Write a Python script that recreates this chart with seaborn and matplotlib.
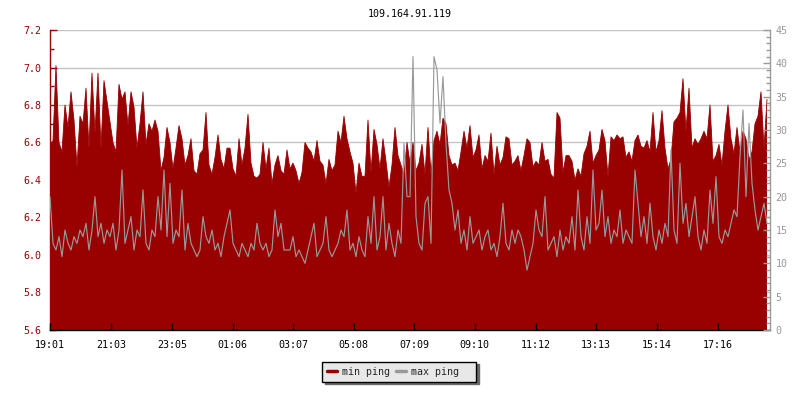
import numpy as np
import pandas as pd
import matplotlib
matplotlib.use("Agg")
import matplotlib.pyplot as plt
from matplotlib.lines import Line2D
from matplotlib.ticker import MultipleLocator, FormatStrFormatter
import seaborn as sns

# ---------------- data ----------------
title = "109.164.91.119"
start_time = "19:01"
step_minutes = 6
span_minutes = 1440
tick_labels = ["19:01", "21:03", "23:05", "01:06", "03:07", "05:08",
               "07:09", "09:10", "11:12", "13:13", "15:14", "17:16"]
series_names = ["min ping", "max ping"]

min_ping = [
    6.58, 6.61, 7.01, 6.60, 6.55, 6.80, 6.68, 6.87, 6.72, 6.47, 6.74, 6.70, 6.89, 6.57, 6.97, 6.65, 6.97, 6.57, 6.93, 6.82,
    6.71, 6.60, 6.55, 6.91, 6.83, 6.87, 6.69, 6.87, 6.79, 6.57, 6.70, 6.87, 6.59, 6.70, 6.66, 6.72, 6.66, 6.45, 6.52, 6.68,
    6.60, 6.46, 6.57, 6.69, 6.62, 6.48, 6.53, 6.62, 6.45, 6.43, 6.54, 6.56, 6.76, 6.48, 6.43, 6.52, 6.64, 6.51, 6.46, 6.57,
    6.57, 6.46, 6.42, 6.62, 6.48, 6.57, 6.75, 6.49, 6.42, 6.41, 6.43, 6.60, 6.46, 6.57, 6.38, 6.48, 6.53, 6.45, 6.43, 6.56,
    6.46, 6.49, 6.45, 6.38, 6.44, 6.60, 6.57, 6.55, 6.50, 6.61, 6.50, 6.48, 6.38, 6.51, 6.45, 6.48, 6.66, 6.60, 6.74, 6.62,
    6.55, 6.49, 6.33, 6.49, 6.42, 6.42, 6.72, 6.44, 6.67, 6.59, 6.46, 6.62, 6.50, 6.36, 6.48, 6.68, 6.53, 6.48, 6.43, 6.60,
    6.49, 6.60, 6.45, 6.49, 6.59, 6.43, 6.68, 6.43, 6.61, 6.66, 6.59, 6.73, 6.70, 6.53, 6.48, 6.49, 6.45, 6.55, 6.66, 6.57,
    6.69, 6.52, 6.56, 6.64, 6.46, 6.53, 6.50, 6.65, 6.43, 6.58, 6.48, 6.52, 6.63, 6.62, 6.48, 6.50, 6.53, 6.45, 6.53, 6.62,
    6.60, 6.47, 6.50, 6.48, 6.60, 6.50, 6.51, 6.43, 6.41, 6.76, 6.73, 6.44, 6.53, 6.53, 6.50, 6.40, 6.46, 6.42, 6.54, 6.58,
    6.66, 6.49, 6.53, 6.56, 6.67, 6.61, 6.42, 6.63, 6.61, 6.64, 6.62, 6.63, 6.52, 6.55, 6.50, 6.61, 6.64, 6.58, 6.57, 6.61,
    6.55, 6.76, 6.55, 6.61, 6.77, 6.57, 6.46, 6.51, 6.71, 6.73, 6.76, 6.94, 6.66, 6.89, 6.57, 6.62, 6.59, 6.62, 6.66, 6.62,
    6.80, 6.50, 6.53, 6.59, 6.48, 6.66, 6.80, 6.62, 6.54, 6.68, 6.55, 6.66, 6.62, 6.51, 6.55, 6.70, 6.74, 6.87, 6.57, 6.83,
]

max_ping = [
    20, 13, 12, 14, 11, 15, 13, 12, 14, 13, 15, 14, 16, 12, 15, 20, 14, 16, 13, 15,
    14, 16, 12, 15, 24, 13, 15, 17, 12, 15, 14, 21, 13, 12, 15, 14, 20, 15, 24, 14,
    22, 13, 15, 14, 21, 12, 16, 13, 12, 11, 12, 17, 14, 13, 15, 12, 13, 11, 14, 16,
    18, 13, 12, 11, 13, 12, 11, 13, 12, 16, 13, 12, 13, 11, 12, 18, 14, 16, 12, 12,
    12, 14, 11, 12, 11, 10, 12, 14, 16, 11, 12, 13, 17, 12, 11, 12, 13, 15, 14, 18,
    12, 13, 11, 14, 12, 11, 17, 13, 20, 12, 14, 20, 12, 16, 13, 11, 15, 13, 28, 20,
    20, 41, 17, 13, 12, 19, 20, 13, 41, 39, 31, 38, 28, 21, 19, 15, 18, 13, 15, 12,
    17, 13, 14, 15, 12, 14, 15, 12, 13, 11, 14, 19, 13, 12, 15, 13, 15, 14, 12, 9,
    11, 13, 18, 15, 14, 20, 12, 13, 14, 11, 15, 12, 14, 13, 17, 12, 21, 14, 12, 17,
    13, 24, 15, 16, 21, 14, 17, 13, 15, 14, 18, 13, 15, 14, 13, 24, 19, 14, 17, 13,
    19, 14, 12, 15, 13, 16, 14, 27, 15, 13, 25, 16, 19, 14, 17, 20, 14, 12, 15, 13,
    21, 16, 23, 14, 13, 15, 14, 16, 18, 17, 26, 33, 20, 31, 22, 18, 15, 17, 19, 16,
]

# ---------------- style ----------------
RED = "#990000"
GRAY = "#999999"
GRID = "#c4c4c4"
FS = 7.2

sns.set_style("white")
plt.rcParams["font.family"] = ["DejaVu Sans Mono", "DejaVu Sans"]


def to_min(s):
    h, m = map(int, s.split(":"))
    return h * 60 + m


t0 = to_min(start_time)
tick_pos = [(to_min(s) - t0) % 1440 for s in tick_labels]

df = pd.DataFrame({
    "t": np.arange(len(min_ping)) * step_minutes,
    "min": min_ping,
    "max": max_ping,
})

fig = plt.figure(figsize=(8, 4), dpi=100)
ax = fig.add_axes([0.0625, 0.175, 0.9, 0.75])

# min ping: filled area
ax.fill_between(df["t"], df["min"], 0, color=RED, lw=0, zorder=1)
sns.lineplot(data=df, x="t", y="min", ax=ax, color=RED, lw=0.6,
             zorder=1.2, legend=False)

ax.set_xlim(0, span_minutes)
ax.set_ylim(5.6, 7.2)
ax.set_xlabel("")
ax.set_ylabel("")
ax.set_axisbelow(True)
ax.yaxis.set_major_locator(MultipleLocator(0.2))
ax.yaxis.set_minor_locator(MultipleLocator(0.1))
ax.yaxis.set_major_formatter(FormatStrFormatter("%.1f"))
ax.yaxis.grid(True, which="major", color=GRID, lw=1.0)
ax.xaxis.grid(False)
ax.set_xticks(tick_pos)
ax.set_xticklabels(tick_labels)
ax.tick_params(axis="y", which="major", direction="in", length=5, width=1,
               color=RED, labelcolor=RED, labelsize=FS, pad=6, left=True)
ax.tick_params(axis="y", which="minor", direction="in", length=3, width=1,
               color=RED, left=True)
ax.tick_params(axis="x", which="major", direction="in", length=0,
               labelsize=FS, pad=7, labelcolor="black")
for side in ["top", "right"]:
    ax.spines[side].set_visible(False)
ax.spines["left"].set_color(RED)
ax.spines["left"].set_linewidth(1.0)
ax.spines["bottom"].set_color("black")
ax.spines["bottom"].set_linewidth(1.0)

# max ping: gray line on the right axis
ax2 = ax.twinx()
sns.lineplot(data=df, x="t", y="max", ax=ax2, color=GRAY, lw=0.85, legend=False)
ax2.set_ylim(0, 45)
ax2.set_xlim(0, span_minutes)
ax2.set_xlabel("")
ax2.set_ylabel("")
ax2.grid(False)
ax2.yaxis.set_major_locator(MultipleLocator(5))
ax2.yaxis.set_minor_locator(MultipleLocator(1))
ax2.tick_params(axis="y", which="major", direction="in", length=5, width=1,
                color=GRAY, labelcolor=GRAY, labelsize=FS, pad=4, right=True)
ax2.tick_params(axis="y", which="minor", direction="in", length=3, width=1,
                color=GRAY, right=True)
ax2.xaxis.set_visible(True)
ax2.tick_params(axis="x", which="major", direction="in", length=5, width=1,
                color="black", labelbottom=False, bottom=True)
for side in ["top", "left", "bottom"]:
    ax2.spines[side].set_visible(False)
ax2.spines["right"].set_color(GRAY)
ax2.spines["right"].set_linewidth(1.0)

# title
fig.text(0.5125, 1 - 14 / 400, title, ha="center", va="center", fontsize=FS, color="black")

# legend
handles = [Line2D([], [], color=RED, lw=2.5), Line2D([], [], color=GRAY, lw=2.5)]
legend_labels = [series_names[0], series_names[1] + "  "]
leg = fig.legend(handles=handles, labels=legend_labels, ncol=2, loc="center",
                 bbox_to_anchor=(0.499, 0.071), frameon=True, fancybox=False,
                 shadow={"color": "#6a6a6a", "alpha": 1}, edgecolor="black",
                 facecolor="#e8e8e8", framealpha=1, handlelength=1.0,
                 handletextpad=0.5, columnspacing=0.6, borderpad=0.5,
                 borderaxespad=0.0, fontsize=FS)
leg.get_frame().set_linewidth(1.0)

fig.savefig("out.png", dpi=100)
